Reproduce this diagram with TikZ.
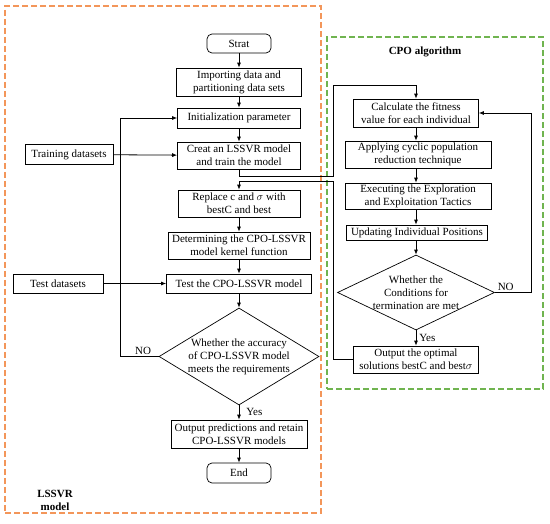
\documentclass[tikz,border=0pt]{standalone}
\usepackage{fontspec}
\setmainfont{Liberation Serif}
\usetikzlibrary{shapes.geometric,arrows.meta}
\definecolor{framorange}{RGB}{243,150,90}
\definecolor{framgreen}{RGB}{112,180,80}
\begin{document}
\begin{tikzpicture}[x=1pt,y=-1pt,font=\fontsize{11}{13}\selectfont,
  box/.style={draw,line width=0.7pt,align=center,inner sep=0.5pt},
  rbox/.style={box,rounded corners=5pt},
  dia/.style={draw,diamond,line width=0.7pt,inner sep=0pt},
  arr/.style={-{Latex[length=5pt,width=4pt]},line width=0.8pt},
  frame/.style={draw,dashed,dash pattern=on 6pt off 3pt,line width=1.1pt,inner sep=0pt},
  lab/.style={inner sep=1pt}]
\useasboundingbox (0,0) rectangle (550,524);
% frames
\node[frame,draw=framorange,minimum width=316pt,minimum height=507pt] (lframe) at (163,259.5) {};
\node[frame,draw=framgreen,minimum width=216pt,minimum height=352pt] (gframe) at (435,213) {};
\node[lab,font=\fontsize{11}{13}\selectfont\bfseries,align=center] (ltitle) at (55,500.5) {LSSVR\\model};
\node[lab,font=\fontsize{11}{13}\selectfont\bfseries] (gtitle) at (425,52) {CPO algorithm};
% LSSVR column
\node[rbox,minimum width=64pt,minimum height=19pt] (strat) at (239,43.5) {Strat};
\node[box,minimum width=125pt,minimum height=28pt] (imp) at (239,82) {Importing data and\\partitioning data sets};
\node[box,minimum width=123pt,minimum height=20pt] (init) at (239,118) {Initialization parameter};
\node[box,minimum width=123pt,minimum height=27pt] (creat) at (239,155.5) {Creat an LSSVR model\\and train the model};
\node[box,minimum width=122pt,minimum height=27pt] (repl) at (239,203.5) {Replace c and $\sigma$ with\\bestC and best};
\node[box,minimum width=142pt,minimum height=27pt] (det) at (239,245.5) {Determining the CPO-LSSVR\\model kernel function};
\node[box,minimum width=145pt,minimum height=19pt] (test) at (239,283.5) {Test the CPO-LSSVR model};
\node[dia,minimum width=160pt,minimum height=97pt] (d1) at (239,356.5) {};
\node[lab,align=center] (d1t) at (d1) {Whether the accuracy\\of CPO-LSSVR model\\meets the requirements};
\node[box,minimum width=136pt,minimum height=28pt] (outp) at (239,434) {Output predictions and retain\\CPO-LSSVR models};
\node[rbox,minimum width=64pt,minimum height=20pt] (end) at (239,473) {End};
\node[box,minimum width=88pt,minimum height=20pt] (train) at (69,154.5) {Training datasets};
\node[box,minimum width=90pt,minimum height=19pt] (testd) at (58,283.5) {Test datasets};
% CPO column
\node[box,minimum width=125pt,minimum height=28pt] (calc) at (416,113) {Calculate the fitness\\value for each individual};
\node[box,minimum width=146pt,minimum height=27pt] (apply) at (418,154.5) {Applying cyclic population\\reduction technique};
\node[box,minimum width=146pt,minimum height=26pt] (exec) at (418,196) {Executing the Exploration\\and Exploitation Tactics};
\node[box,minimum width=141pt,minimum height=15pt] (upd) at (417,232.5) {Updating Individual Positions};
\node[dia,minimum width=157pt,minimum height=75pt] (d2) at (416,292.5) {};
\node[lab,align=center] (d2t) at (d2) {Whether the\\Conditions for\\termination are met};
\node[box,minimum width=125pt,minimum height=27pt] (opt) at (416,359.5) {Output the optimal\\solutions bestC and best$\sigma$};
% coordinates
\coordinate (a1) at (239,176);
\coordinate (a2) at (333,176);
\coordinate (a3) at (333,85);
\coordinate (a4) at (416,85);
\coordinate (b1) at (333,359.5);
\coordinate (b2) at (333,181);
\coordinate (b3) at (239,181);
\coordinate (c1) at (120,356.5);
\coordinate (c2) at (120,118);
\coordinate (e1) at (531,292.5);
\coordinate (e2) at (531,113);
% LSSVR connectors
\draw[arr] (strat) -- (imp);
\draw[arr] (imp) -- (init);
\draw[arr] (init) -- (creat);
\draw[arr] (repl) -- (det);
\draw[arr] (det) -- (test);
\draw[arr] (test) -- (d1.north);
\draw[arr] (d1.south) -- node[lab,right,pos=0.45,xshift=6pt] (yes1) {Yes} (outp);
\draw[arr] (outp) -- (end);
\draw[arr] (train) -- (creat);
\draw[arr] (testd) -- (test);
\draw[arr] (d1.west) -- node[lab,above,pos=0.4] (no1) {NO} (c1) -- (c2) -- (init.west);
% cross connectors
\draw[arr] (creat.south) -- (a1) -- (a2) -- (a3) -- (a4) -- (calc.north);
\draw[arr] (opt.west) -- (b1) -- (b2) -- (b3) -- (repl.north);
% CPO connectors
\draw[arr] (calc) -- (apply.north -| calc);
\draw[arr] (apply.south -| calc) -- (exec.north -| calc);
\draw[arr] (exec.south -| calc) -- (upd.north -| calc);
\draw[arr] (upd.south -| calc) -- (d2.north);
\draw[arr] (d2.south) -- node[lab,right,pos=0.5,xshift=2pt] (yes2) {Yes} (opt);
\draw[arr] (d2.east) -- node[lab,above,pos=0.3] (no2) {NO} (e1) -- (e2) -- (calc.east);
\end{tikzpicture}
\end{document}
